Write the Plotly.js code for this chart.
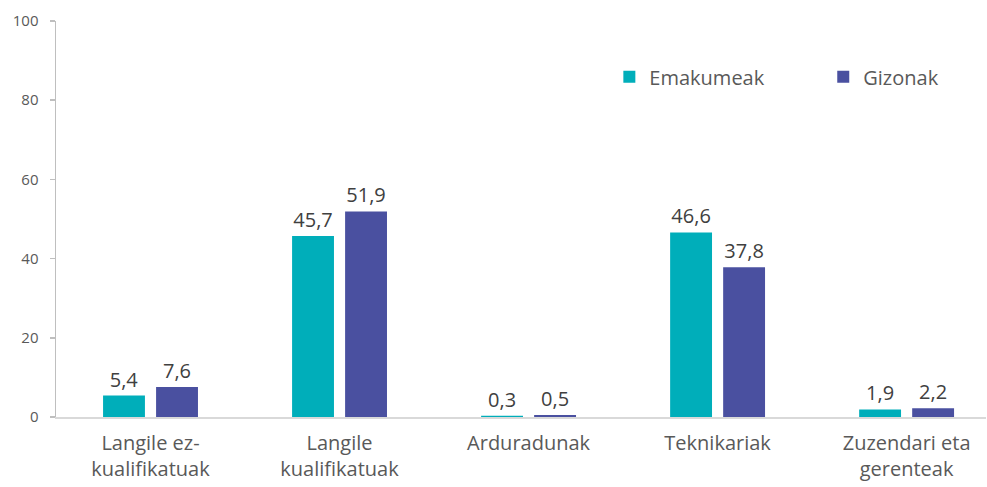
<!DOCTYPE html>
<html>
<head>
<meta charset="utf-8">
<script src="https://cdn.plot.ly/plotly-3.0.1.min.js"></script>
<style>html,body{margin:0;padding:0;background:#fff;}#chart{width:987px;height:487px;}</style>
</head>
<body>
<div id="chart"></div>
<script>
const categories = ["Langile ez-<br>kualifikatuak", "Langile<br>kualifikatuak", "Arduradunak", "Teknikariak", "Zuzendari eta<br>gerenteak"];
const seriesNames = ["Emakumeak", "Gizonak"];
const emakumeak = [5.4, 45.7, 0.3, 46.6, 1.9];
const gizonak = [7.6, 51.9, 0.5, 37.8, 2.2];
const yTicks = [0, 20, 40, 60, 80, 100];

const FONT = "'Open Sans', sans-serif";
const colors = ["#00AEBA", "#4A50A0"];
const legendIds = ["legend", "legend2"];

const traces = [emakumeak, gizonak].map((vals, i) => ({
  type: "bar",
  name: seriesNames[i],
  x: categories,
  y: vals,
  legend: legendIds[i],
  marker: {color: colors[i]},
  texttemplate: "%{y:.1f}",
  textposition: "outside",
  cliponaxis: false,
  textfont: {family: FONT, size: 20, color: "#404040"},
  hoverinfo: "x+y"
}));

const legendBase = {
  orientation: "h",
  yanchor: "middle", y: 0.859,
  xanchor: "left",
  font: {family: FONT, size: 20, color: "#595959"},
  itemwidth: 30,
  bgcolor: "rgba(0,0,0,0)"
};

const layout = {
  width: 987, height: 487,
  margin: {l: 56, r: 1, t: 21, b: 70},
  paper_bgcolor: "#fff", plot_bgcolor: "#fff",
  separators: ",.",
  font: {family: FONT, color: "#595959"},
  barmode: "group",
  bargap: 0.439,
  bargroupgap: 0.21,
  showlegend: true,
  legend: Object.assign({}, legendBase, {x: 0.595}),
  legend2: Object.assign({}, legendBase, {x: 0.825}),
  xaxis: {
    type: "category",
    range: [-0.5, 4.42],
    showline: true, linecolor: "#d9d9d9", linewidth: 1.5,
    showgrid: false, zeroline: false,
    ticks: "",
    ticklabelstandoff: 7,
    tickfont: {family: FONT, size: 20, color: "#595959"},
    fixedrange: true
  },
  yaxis: {
    range: [0, 100],
    tickvals: yTicks,
    ticktext: yTicks.map(String),
    showline: true, linecolor: "#bfbfbf", linewidth: 1.5,
    ticks: "outside", ticklen: 5, tickcolor: "#bfbfbf", tickwidth: 1.5,
    ticklabelstandoff: 8,
    showgrid: false, zeroline: false,
    tickfont: {family: FONT, size: 15, color: "#595959"},
    fixedrange: true
  }
};

Plotly.newPlot("chart", traces, layout, {displayModeBar: false, staticPlot: true});
</script>
</body>
</html>
